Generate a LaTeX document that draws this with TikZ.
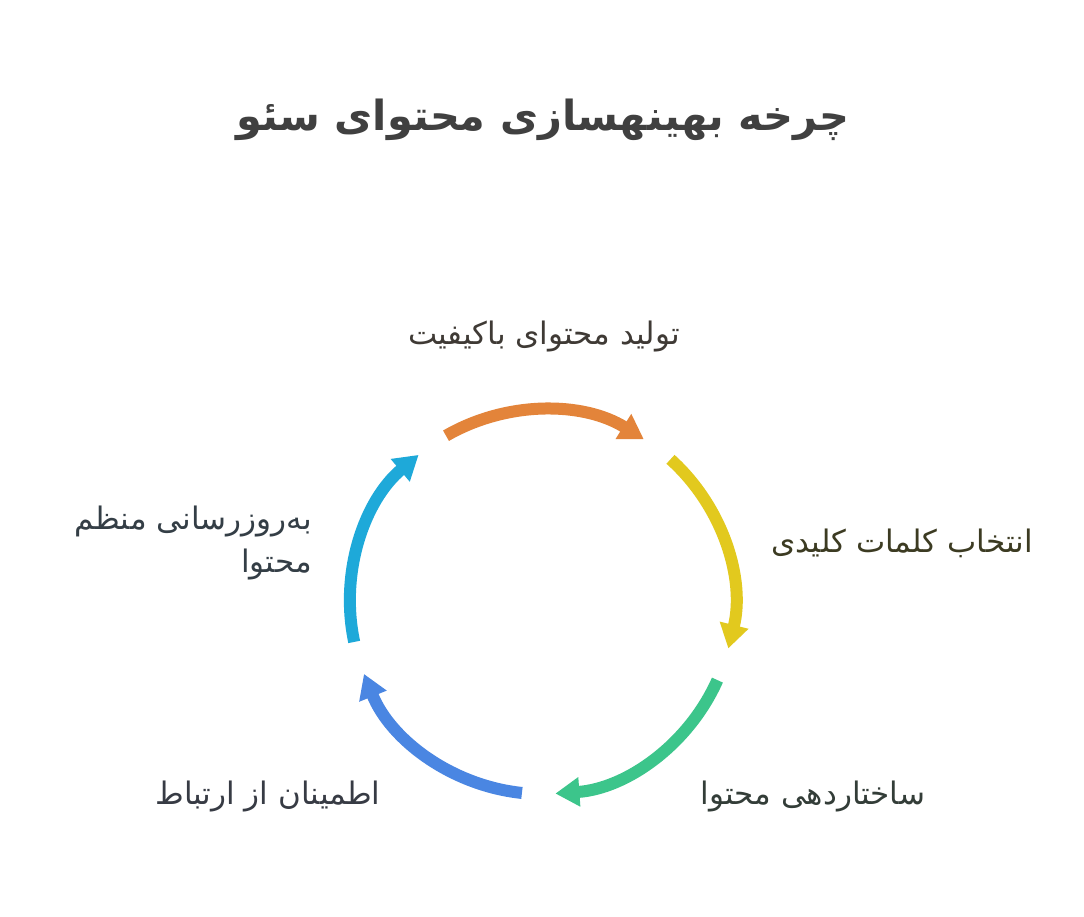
\documentclass[tikz,border=0pt]{standalone}
\usepackage{fontspec}
\usetikzlibrary{arrows.meta,calc}
\TeXXeTstate=1
\newfontfamily\arabicfont[Script=Arabic]{DejaVu Sans}
\definecolor{cOrange}{HTML}{E3843A}
\definecolor{cYellow}{HTML}{E2C91E}
\definecolor{cGreen}{HTML}{3CC58B}
\definecolor{cBlue}{HTML}{4A86E2}
\definecolor{cCyan}{HTML}{1EA9D9}
\definecolor{tTitle}{HTML}{404040}
\definecolor{tOrange}{HTML}{3F3A35}
\definecolor{tYellow}{HTML}{3C3B22}
\definecolor{tGreen}{HTML}{333D38}
\definecolor{tBlue}{HTML}{373B44}
\definecolor{tCyan}{HTML}{343E46}
\begin{document}
\begin{tikzpicture}[x=1pt,y=1pt,
  arcline/.style={line width=12pt,-{Triangle[length=24pt,width=28pt]}},
  lbl/.style={font=\arabicfont\fontsize{31}{43}\selectfont,inner sep=0pt,align=right},
  ttl/.style={font=\arabicfont\bfseries\fontsize{41.5}{50}\selectfont,text=tTitle,inner sep=0pt}]
\useasboundingbox[fill=white] (0,0) rectangle (1084,-916);
\coordinate (c) at (542,-602);
\def\R{192}
\node[ttl] (title) at (543,-120) {\beginR چرخه بهینهسازی محتوای سئو\endR};
% arcs
\coordinate (s1) at ($(c)+(120:\R)$);
\coordinate (s2) at ($(c)+(48:\R)$);
\coordinate (s3) at ($(c)+(-24:\R)$);
\coordinate (s4) at ($(c)+(-96:\R)$);
\coordinate (s5) at ($(c)+(-168:\R)$);
\draw[arcline,cOrange] (s1) arc[start angle=120,end angle=58,radius=\R];
\draw[arcline,cYellow] (s2) arc[start angle=48,end angle=-14,radius=\R];
\draw[arcline,cGreen] (s3) arc[start angle=-24,end angle=-86,radius=\R];
\draw[arcline,cBlue] (s4) arc[start angle=-96,end angle=-158,radius=\R];
\draw[arcline,cCyan] (s5) arc[start angle=-168,end angle=-230,radius=\R];
% labels
\node[lbl,text=tOrange] (l1) at (544,-337) {\beginR تولید محتوای باکیفیت\endR};
\node[lbl,text=tYellow] (l2) at (902,-543) {\beginR انتخاب کلمات کلیدی\endR};
\node[lbl,text=tGreen] (l3) at (813,-796) {\beginR ساختاردهی محتوا\endR};
\node[lbl,text=tBlue] (l4) at (268,-796) {\beginR اطمینان از ارتباط\endR};
\node[lbl,text=tCyan,anchor=east] (l5) at (312,-543) {\beginR به‌روزرسانی منظم\endR\\\beginR محتوا\endR};
\end{tikzpicture}
\end{document}
